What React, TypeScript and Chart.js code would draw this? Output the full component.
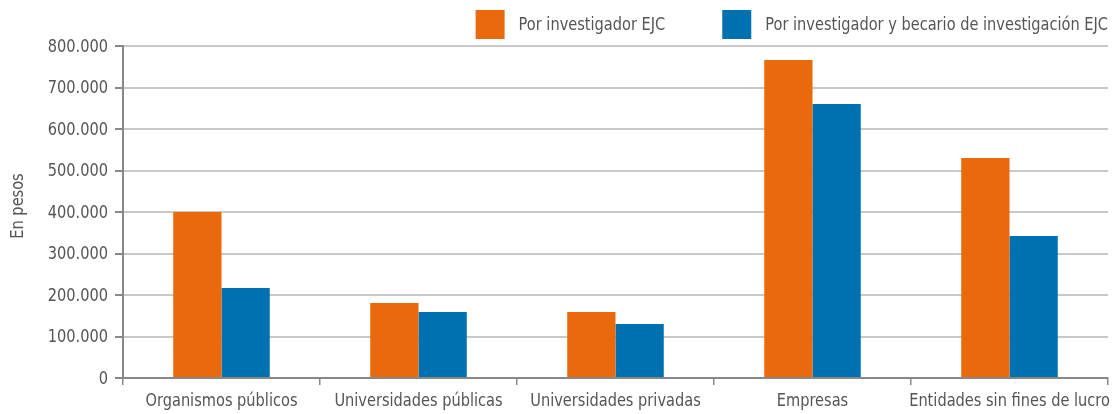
import React, { useEffect, useRef } from "react";
import { Chart, registerables } from "chart.js";

Chart.register(...registerables);

const categories = [
  "Organismos públicos",
  "Universidades públicas",
  "Universidades privadas",
  "Empresas",
  "Entidades sin fines de lucro",
];
const seriesNames = ["Por investigador EJC", "Por investigador y becario de investigación EJC"];
const investigadorEJC = [400000, 181000, 159000, 766000, 530000];
const investigadorBecarioEJC = [217000, 159000, 130000, 660000, 342000];
const yTicksMax = 800000;
const yTickStep = 100000;
const yTitle = "En pesos";

const FAMILY = "'DejaVu Sans Condensed', 'DejaVu Sans', sans-serif";
const FONT = `normal condensed 18px ${FAMILY}`;
const SX = 0.9;
const TEXT = "#555";

function fmt(v: number): string {
  return String(Math.round(v)).replace(/\B(?=(\d{3})+(?!\d))/g, ".");
}

function drawText(ctx: CanvasRenderingContext2D, text: string, x: number, y: number, align: CanvasTextAlign, rotate = false) {
  ctx.save();
  ctx.translate(x, y);
  if (rotate) ctx.rotate(-Math.PI / 2);
  ctx.scale(SX, 1);
  ctx.font = FONT;
  ctx.fillStyle = TEXT;
  ctx.textAlign = align;
  ctx.textBaseline = "middle";
  ctx.fillText(text, 0, 0);
  ctx.restore();
}

function textWidth(ctx: CanvasRenderingContext2D, text: string) {
  ctx.save();
  ctx.font = FONT;
  const w = ctx.measureText(text).width * SX;
  ctx.restore();
  return w;
}

const textPlugin = {
  id: "condensedText",
  afterDraw(chart: any) {
    const ctx: CanvasRenderingContext2D = chart.ctx;
    const xs = chart.scales.x;
    const ys = chart.scales.y;
    const area = chart.chartArea;
    ys.ticks.forEach((t: any) => {
      drawText(ctx, fmt(t.value), area.left - 15, ys.getPixelForValue(t.value) + 1, "right");
    });
    (chart.data.labels as string[]).forEach((lab, i) => {
      drawText(ctx, lab, xs.getPixelForTick(i), area.bottom + 23, "center");
    });
    drawText(ctx, yTitle, 18, (area.top + area.bottom) / 2 - 6, "center", true);
    const ds = chart.data.datasets;
    const boxW = 29, boxH = 29, gapText = 14, gapItems = 57;
    const widths = ds.map((d: any) => boxW + gapText + textWidth(ctx, d.label));
    const total = widths.reduce((a: number, b: number) => a + b, 0) + gapItems * (ds.length - 1);
    let x = area.right - total;
    const top = 10;
    ds.forEach((d: any, i: number) => {
      ctx.fillStyle = d.backgroundColor;
      ctx.fillRect(x, top, boxW, boxH);
      drawText(ctx, d.label, x + boxW + gapText, top + boxH / 2 + 1, "left");
      x += widths[i] + gapItems;
    });
  },
};

export default function App() {
  const ref = useRef<HTMLCanvasElement | null>(null);
  useEffect(() => {
    document.body.style.margin = "0";
    const chart = new Chart(ref.current!, {
      type: "bar",
      data: {
        labels: categories,
        datasets: [
          { label: seriesNames[0], data: investigadorEJC, backgroundColor: "#EA690C" },
          { label: seriesNames[1], data: investigadorBecarioEJC, backgroundColor: "#0071B0" },
        ],
      },
      plugins: [textPlugin],
      options: {
        animation: false,
        responsive: false,
        maintainAspectRatio: false,
        datasets: { bar: { categoryPercentage: 0.49, barPercentage: 1 } },
        layout: { padding: { left: 0, right: 4, top: 46, bottom: 0 } },
        plugins: {
          tooltip: { enabled: false },
          legend: { display: false },
        },
        scales: {
          x: {
            grid: { drawOnChartArea: false, drawTicks: true, tickLength: 7, color: "#888", offset: true, lineWidth: 1.5 },
            border: { color: "#888", width: 2 },
            ticks: { display: false },
            afterFit: (s: any) => { s.height = 36; },
          },
          y: {
            min: 0,
            max: yTicksMax,
            grid: { color: "#c8c8c8", lineWidth: 2, tickLength: 8, tickColor: "#888" },
            border: { color: "#888", width: 2 },
            ticks: { display: false, stepSize: yTickStep },
            afterFit: (s: any) => { s.width = 123; },
          },
        },
      },
    });
    return () => chart.destroy();
  }, []);
  return (
    <div style={{ width: 1112, height: 414, background: "#fff" }}>
      <canvas ref={ref} width={1112} height={414} style={{ display: "block" }} />
    </div>
  );
}
